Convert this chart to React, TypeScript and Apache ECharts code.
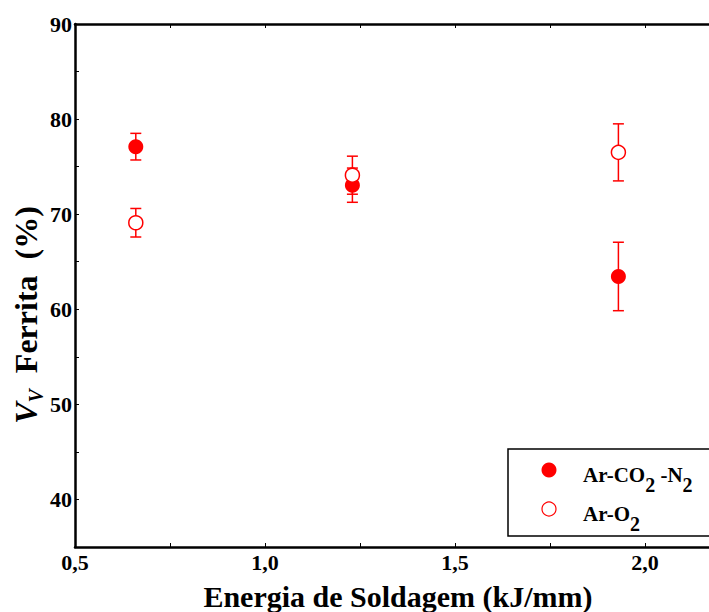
import React, { useEffect, useRef } from "react";
import * as echarts from "echarts";

const energia = [0.66, 1.23, 1.93];
const ferritaArCO2N2 = [77.1, 73.05, 63.45];
const erroArCO2N2 = [1.4, 1.8, 3.6];
const ferritaArO2 = [69.1, 74.1, 76.5];
const erroArO2 = [1.5, 2.0, 3.0];
const serieNomes = ["Ar-CO2 -N2", "Ar-O2"];
const xTitulo = "Energia de Soldagem (kJ/mm)";

const FONT = '"Liberation Serif", "Times New Roman", serif';
const RED = "#ff0000";

function errData(xs: number[], ys: number[], es: number[]) {
  return xs.map((x, i) => [x, ys[i] - es[i], ys[i] + es[i]]);
}

function errorSeries(name: string, data: number[][]) {
  return {
    type: "custom",
    name,
    z: 1,
    silent: true,
    data,
    renderItem: (_p: any, api: any) => {
      const x = api.value(0);
      const lo = api.coord([x, api.value(1)]);
      const hi = api.coord([x, api.value(2)]);
      const w = 5.5;
      const st = { stroke: RED, lineWidth: 1.5 };
      return {
        type: "group",
        children: [
          { type: "line", shape: { x1: hi[0], y1: hi[1], x2: lo[0], y2: lo[1] }, style: st },
          { type: "line", shape: { x1: hi[0] - w, y1: hi[1], x2: hi[0] + w, y2: hi[1] }, style: st },
          { type: "line", shape: { x1: lo[0] - w, y1: lo[1], x2: lo[0] + w, y2: lo[1] }, style: st },
        ],
      };
    },
  };
}

const tickLabel = { fontFamily: FONT, fontWeight: "bold", fontSize: 22, color: "#000" };

export default function App() {
  const ref = useRef<HTMLDivElement>(null);
  useEffect(() => {
    document.body.style.margin = "0";
    const chart = echarts.init(ref.current!, null, { renderer: "svg" });
    const legRich = {
      a: { fontFamily: FONT, fontWeight: "bold", fontSize: 21, lineHeight: 21, verticalAlign: "top", fill: "#000" },
      s: { fontFamily: FONT, fontWeight: "bold", fontSize: 20, lineHeight: 20, verticalAlign: "top", padding: [10, 0, 0, 0], fill: "#000" },
    };
    chart.setOption({
      animation: false,
      backgroundColor: "#fff",
      grid: { left: 75, top: 24, width: 646, height: 523, outerBoundsMode: "none", containLabel: false },
      xAxis: [
        {
          type: "value",
          min: 0.5,
          max: 2.2,
          interval: 0.25,
          name: xTitulo,
          nameLocation: "middle",
          nameGap: 34,
          nameTextStyle: { fontFamily: FONT, fontWeight: "bold", fontSize: 30, color: "#000" },
          axisLine: { show: true, lineStyle: { color: "#000", width: 2.5 } },
          axisTick: { show: true, inside: true, length: 4, lineStyle: { color: "#000", width: 1 } },
          splitLine: { show: false },
          axisLabel: {
            ...tickLabel,
            margin: 4,
            showMaxLabel: false,
            formatter: (v: number) => (Math.abs(v * 2 - Math.round(v * 2)) < 1e-6 ? v.toFixed(1).replace(".", ",") : ""),
          },
        },
        {
          type: "value",
          position: "top",
          min: 0.5,
          max: 2.2,
          interval: 0.25,
          axisLine: { show: true, lineStyle: { color: "#000", width: 2.5 } },
          axisTick: { show: true, inside: true, length: 4, lineStyle: { color: "#000", width: 1 } },
          splitLine: { show: false },
          axisLabel: { show: false },
        },
      ],
      yAxis: [
        {
          type: "value",
          min: 35,
          max: 90,
          interval: 5,
          axisLine: { show: true, lineStyle: { color: "#000", width: 2.5 } },
          axisTick: { show: true, inside: true, length: 4, lineStyle: { color: "#000", width: 1 } },
          splitLine: { show: false },
          axisLabel: {
            ...tickLabel,
            margin: 3,
            formatter: (v: number) => (v % 10 === 0 ? String(v) : ""),
          },
        },
        {
          type: "value",
          position: "right",
          min: 35,
          max: 90,
          interval: 5,
          axisLine: { show: true, lineStyle: { color: "#000", width: 2.5 } },
          axisTick: { show: false },
          splitLine: { show: false },
          axisLabel: { show: false },
        },
      ],
      series: [
        errorSeries("erro1", errData(energia, ferritaArCO2N2, erroArCO2N2)),
        errorSeries("erro2", errData(energia, ferritaArO2, erroArO2)),
        {
          type: "scatter",
          name: serieNomes[0],
          z: 3,
          symbol: "circle",
          symbolSize: 15,
          itemStyle: { color: RED, opacity: 1 },
          data: energia.map((x, i) => [x, ferritaArCO2N2[i]]),
        },
        {
          type: "scatter",
          name: serieNomes[1],
          z: 4,
          symbol: "circle",
          symbolSize: 14,
          itemStyle: { color: "#fff", borderColor: RED, borderWidth: 1.5, opacity: 1 },
          data: energia.map((x, i) => [x, ferritaArO2[i]]),
        },
      ],
      graphic: [
        {
          type: "text",
          x: 26,
          y: 315,
          rotation: Math.PI / 2,
          style: {
            text: "{v|V}{vs|V}{t|  Ferrita  (%)}",
            align: "center",
            verticalAlign: "middle",
            rich: {
              v: { fontFamily: FONT, fontWeight: "bold", fontStyle: "italic", fontSize: 32, lineHeight: 32, verticalAlign: "top", fill: "#000" },
              vs: { fontFamily: FONT, fontWeight: "bold", fontStyle: "italic", fontSize: 20, lineHeight: 20, verticalAlign: "top", padding: [16, 0, 0, 0], fill: "#000" },
              t: { fontFamily: FONT, fontWeight: "bold", fontSize: 32, lineHeight: 32, verticalAlign: "top", fill: "#000" },
            },
          },
        },
        {
          type: "rect",
          z: 10,
          shape: { x: 508, y: 449, width: 260, height: 87 },
          style: { fill: "#fff", stroke: "#000", lineWidth: 1.5 },
        },
        {
          type: "circle",
          z: 11,
          shape: { cx: 549, cy: 470, r: 7.5 },
          style: { fill: RED },
        },
        {
          type: "circle",
          z: 11,
          shape: { cx: 549, cy: 509, r: 7 },
          style: { fill: "#fff", stroke: RED, lineWidth: 1.2 },
        },
        {
          type: "text",
          z: 11,
          x: 583,
          y: 475,
          style: { text: "{a|Ar-CO}{s|2}{a| -N}{s|2}", align: "left", verticalAlign: "middle", rich: legRich },
        },
        {
          type: "text",
          z: 11,
          x: 583,
          y: 514,
          style: { text: "{a|Ar-O}{s|2}", align: "left", verticalAlign: "middle", rich: legRich },
        },
      ],
    });
    return () => chart.dispose();
  }, []);
  return <div ref={ref} style={{ width: 709, height: 612 }} />;
}
